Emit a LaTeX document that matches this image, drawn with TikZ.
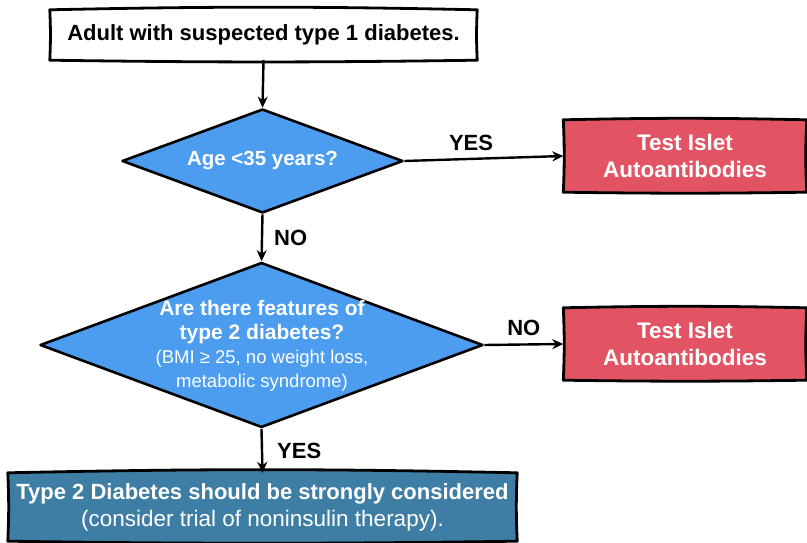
\documentclass[tikz,border=0pt]{standalone}
\usepackage{fontspec}
\setmainfont{Liberation Sans}
\usetikzlibrary{shapes.geometric,arrows.meta,backgrounds}

\definecolor{decblue}{RGB}{76,156,240}
\definecolor{testred}{RGB}{226,84,100}
\definecolor{concblue}{RGB}{62,125,164}

\newcommand\bfat[1]{\fontsize{#1}{#1}\selectfont\bfseries}
\newcommand\mdat[1]{\fontsize{#1}{#1}\selectfont\mdseries}

% hand-drawn outline filled behind a node
\newcommand\handbox[2]{%
  \begin{pgfonlayer}{background}
    \filldraw[handline,fill=#2]
      (#1.north west) to[bend left=1.2] (#1.north east)
      to[bend right=2.5] (#1.south east)
      to[bend left=0.8] (#1.south west)
      to[bend right=2.5] cycle;
  \end{pgfonlayer}}

\tikzset{
  handline/.style={line width=2.8pt,line join=round,draw=black},
  boxnode/.style={inner sep=0pt,align=center},
  whitetext/.style={boxnode,text=white},
  decision/.style={diamond,draw=black,line width=2.6pt,fill=decblue,
    inner sep=0pt,line join=round},
  flow/.style={line width=2.4pt,-{Stealth[length=11pt,width=10pt]}},
  answer/.style={font=\bfseries\fontsize{22}{24}\selectfont,inner sep=0pt},
}

\begin{document}
\begin{tikzpicture}[x=1pt,y=-1pt]
\useasboundingbox (0,0) rectangle (807,543);

% boxes
\node[boxnode,minimum width=427,minimum height=50,
      font=\bfseries\fontsize{22}{26}\selectfont] (start) at (263.5,35)
  {Adult with suspected type 1 diabetes.};
\handbox{start}{white}

\node[decision,minimum width=281,minimum height=104] (q1) at (262.5,161) {};
\node[whitetext,font=\bfat{20.5}] (q1t) at (q1) {Age <35 years?};

\node[whitetext,minimum width=243,minimum height=72,
      font=\bfseries\fontsize{22.5}{27}\selectfont] (t1) at (685,156)
  {Test Islet\\Autoantibodies};
\handbox{t1}{testred}

\node[decision,minimum width=443,minimum height=165] (q2) at (261.5,345) {};
\node[whitetext,font=\fontsize{20}{24}\selectfont] (q2t) at (262,346)
  {{\bfat{21}Are there features of}\\
   {\bfat{21}type 2 diabetes?}\\
   {\mdat{18.5}(BMI ≥ 25, no weight loss,}\\
   {\mdat{18.5}metabolic syndrome)}};

\node[whitetext,minimum width=243,minimum height=72,
      font=\bfseries\fontsize{22.5}{27}\selectfont] (t2) at (685,344)
  {Test Islet\\Autoantibodies};
\handbox{t2}{testred}

\node[whitetext,minimum width=509,minimum height=68,
      font=\fontsize{22}{27}\selectfont] (t2d) at (262.5,507)
  {{\bfat{22}Type 2 Diabetes should be strongly considered}\\
   {\mdat{22.5}(consider trial of noninsulin therapy).}};
\handbox{t2d}{concblue}

% connectors
\draw[flow] (start.south) -- (q1.north);
\draw[flow] (q1.east) -- node[answer,pos=0.42,above=7pt] {YES} (t1.west);
\draw[flow] (q1.south) -- node[answer,midway,right=11pt] {NO} (q2.north);
\draw[flow] (q2.east) -- node[answer,midway,above=8pt] {NO} (t2.west);
\draw[flow] (q2.south) -- node[answer,midway,right=14pt] {YES} (t2d.north);
\end{tikzpicture}
\end{document}
